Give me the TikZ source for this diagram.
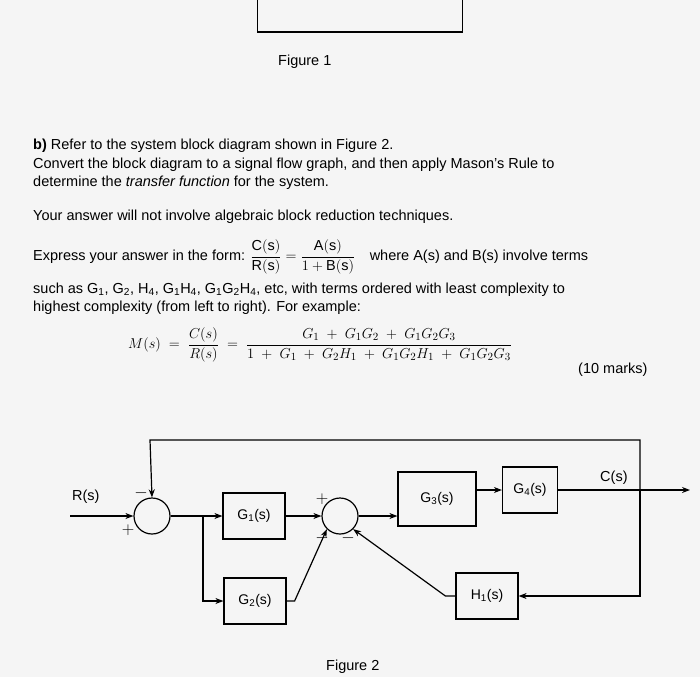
\documentclass[tikz,border=0pt]{standalone}
\usepackage{amsmath}
\usepackage{fontspec}
\setmainfont{Liberation Sans}
\usetikzlibrary{arrows.meta}
\begin{document}
\begin{tikzpicture}[x=1pt,y=-1pt,
  blk/.style={draw,line width=1.2pt,minimum width=62pt,minimum height=46pt,font=\fontsize{14}{16}\selectfont},
  sumc/.style={draw,line width=1.2pt,circle,minimum size=36pt,inner sep=0pt},
  sig/.style={-{Stealth[length=8pt]},line width=1.2pt},
  txt/.style={anchor=west,font=\fontsize{14.5}{17}\selectfont,inner sep=0pt},
  sgn/.style={font=\fontsize{16}{16}\selectfont,inner sep=0pt}]
\useasboundingbox[fill=gray!8] (0,0) rectangle (700,677);
\node[draw,line width=1.2pt,minimum width=205pt,minimum height=34pt] (fig1box) at (360,15) {};
\node[txt] (f1) at (278,62) {Figure 1};
\node[txt] (l1) at (33,146) {\textbf{b)} Refer to the system block diagram shown in Figure 2.};
\node[txt] (l2) at (33,165) {Convert the block diagram to a signal flow graph, and then apply Mason's Rule to};
\node[txt] (l3) at (33,183) {determine the \textit{transfer function} for the system.};
\node[txt] (l4) at (33,217) {Your answer will not involve algebraic block reduction techniques.};
\node[txt] (l5) at (33,257) {Express your answer in the form: $\dfrac{\mathrm{C(s)}}{\mathrm{R(s)}}=\dfrac{\mathrm{A(s)}}{1+\mathrm{B(s)}}$\quad where A(s) and B(s) involve terms};
\node[txt] (l6) at (33,290) {such as G\textsubscript{1}, G\textsubscript{2}, H\textsubscript{4}, G\textsubscript{1}H\textsubscript{4}, G\textsubscript{1}G\textsubscript{2}H\textsubscript{4}, etc, with terms ordered with least complexity to};
\node[txt] (l7) at (33,308) {highest complexity (from left to right). For example:};
\node[txt,font=\fontsize{15}{17}\selectfont] (eq) at (128,345) {$M(s)\;=\;\dfrac{C(s)}{R(s)}\;=\;\dfrac{G_1\;+\;G_1G_2\;+\;G_1G_2G_3}{1\;+\;G_1\;+\;G_2H_1\;+\;G_1G_2H_1\;+\;G_1G_2G_3}$};
\node[txt] (marks) at (578,370) {(10 marks)};
% diagram
\node[sumc] (s1) at (152,516) {};
\node[blk] (g1) at (254,516) {G\textsubscript{1}(s)};
\node[blk] (g2) at (255,601) {G\textsubscript{2}(s)};
\node[sumc] (s2) at (340,516) {};
\node[blk,minimum width=78pt,minimum height=54pt] (g3) at (437,499) {G\textsubscript{3}(s)};
\node[blk,minimum width=55pt] (g4) at (530,490) {G\textsubscript{4}(s)};
\node[blk] (h1) at (487,596) {H\textsubscript{1}(s)};
\coordinate (rin) at (70,516);
\coordinate (cout) at (690,490);
\coordinate (br) at (203,516);
\coordinate (tap) at (640,490);
\node[txt] (rl) at (72,497) {R(s)};
\node[txt] (cl) at (600,478) {C(s)};
\draw[sig] (rin) -- (s1.west);
\draw[sig] (s1.east) -- (g1.west);
\draw[sig] (br) |- (g2.west);
\draw[sig] (g1.east) -- (s2.west);
\draw[sig] (g2.east) -- ++(8,0) -- (s2.south west);
\draw[sig] (s2.east) -- (s2.east -| g3.west);
\draw[sig] (g4.west -| g3.east) -- (g4.west);
\draw[sig] (g4.east) -- (cout);
\draw[sig] (tap) |- (h1.east);
\draw[sig] (tap) |- (150,440) -- (s1.north);
\draw[sig] (h1.west) -- ++(-10,0) -- (s2.south east);
\node[sgn] (m1) at (141,493) {$-$};
\node[sgn] (p1) at (128,530) {$+$};
\node[sgn] (p2) at (322,499) {$+$};
\node[sgn] (m2) at (322,538) {$-$};
\node[sgn] (m3) at (348,538) {$-$};
\node[txt] (f2) at (326,667) {Figure 2};
\end{tikzpicture}
\end{document}
